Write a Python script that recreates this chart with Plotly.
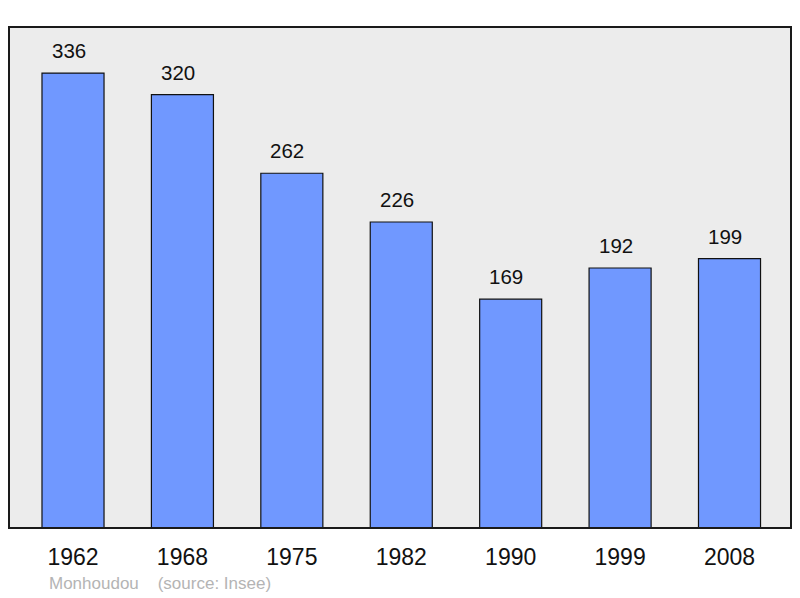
import plotly.graph_objects as go

years = ["1962", "1968", "1975", "1982", "1990", "1999", "2008"]
population = [336, 320, 262, 226, 169, 192, 199]
footer_name = "Monhoudou"
footer_source = "(source: Insee)"

xs = list(range(len(years)))
FONT = "Liberation Sans, Arial, sans-serif"

fig = go.Figure()
fig.add_trace(go.Bar(
    x=xs, y=population, width=0.567,
    marker=dict(color="#7098ff", line=dict(color="#111111", width=1.2)),
    hoverinfo="skip",
))
for x, v in zip(xs, population):
    fig.add_annotation(x=x, y=v, text=str(v), showarrow=False, yanchor="bottom",
                       yshift=9, xshift=-4.5,
                       font=dict(size=20.5, color="#111111", family=FONT))

fig.add_shape(type="rect", xref="paper", yref="paper", x0=0, y0=0, x1=1, y1=1,
              line=dict(color="#1a1a1a", width=2), layer="above")

fig.add_annotation(xref="paper", yref="paper", x=(47 - 9) / 782, y=-(583 - 528) / 501,
                   xanchor="left", yanchor="middle", showarrow=False,
                   text=footer_name + "\u00a0\u00a0\u00a0\u00a0" + footer_source,
                   font=dict(size=17, color="#b4b4b4", family=FONT))

fig.update_layout(
    width=800, height=598,
    margin=dict(l=9, r=9, t=27, b=70),
    paper_bgcolor="white", plot_bgcolor="#ececec",
    showlegend=False,
    font=dict(family=FONT, color="#111111"),
    xaxis=dict(range=[-0.585, 6.562], tickvals=xs, ticktext=years, showgrid=False,
               zeroline=False, ticks="outside", ticklen=8, tickcolor="rgba(0,0,0,0)",
               tickfont=dict(size=23), fixedrange=True),
    yaxis=dict(range=[0, 370], visible=False, showgrid=False, fixedrange=True),
)

fig.write_html("out.html", config={"displayModeBar": False},
               post_script="document.body.style.margin='0';")
